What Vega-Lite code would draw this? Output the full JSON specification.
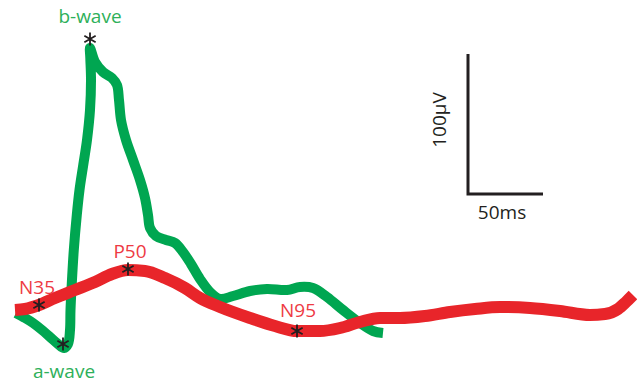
{
  "$schema": "https://vega.github.io/schema/vega-lite/v6.json",
  "width": 637,
  "height": 386,
  "autosize": {"type": "none"},
  "padding": 0,
  "background": "white",
  "config": {"view": {"stroke": null}},
  "datasets": {
    "green": [
      {"i": 1, "t": 0.67, "v": -2.14},
      {"i": 2, "t": 6.67, "v": -5.71},
      {"i": 3, "t": 12, "v": -9.29},
      {"i": 4, "t": 18, "v": -14.29},
      {"i": 5, "t": 23.33, "v": -19.29},
      {"i": 6, "t": 28.67, "v": -24.29},
      {"i": 7, "t": 32.67, "v": -27.14},
      {"i": 8, "t": 35.33, "v": -24.29},
      {"i": 9, "t": 36.67, "v": -14.29},
      {"i": 10, "t": 37, "v": 0},
      {"i": 11, "t": 37.8, "v": 17.86},
      {"i": 12, "t": 39.2, "v": 42.86},
      {"i": 13, "t": 41.2, "v": 67.86},
      {"i": 14, "t": 43, "v": 85.71},
      {"i": 15, "t": 45.5, "v": 103.57},
      {"i": 16, "t": 48, "v": 121.43},
      {"i": 17, "t": 50, "v": 142.86},
      {"i": 18, "t": 50.67, "v": 164.29},
      {"i": 19, "t": 50.2, "v": 180},
      {"i": 20, "t": 50, "v": 187.14},
      {"i": 21, "t": 53.33, "v": 177.14},
      {"i": 22, "t": 58.67, "v": 170},
      {"i": 23, "t": 64.67, "v": 165.71},
      {"i": 24, "t": 68, "v": 160.71},
      {"i": 25, "t": 69.33, "v": 150},
      {"i": 26, "t": 70.67, "v": 135.71},
      {"i": 27, "t": 74, "v": 121.43},
      {"i": 28, "t": 78.67, "v": 107.14},
      {"i": 29, "t": 83.33, "v": 92.86},
      {"i": 30, "t": 86.67, "v": 80},
      {"i": 31, "t": 88.67, "v": 67.86},
      {"i": 32, "t": 90, "v": 58.57},
      {"i": 33, "t": 94, "v": 52.86},
      {"i": 34, "t": 100.67, "v": 50},
      {"i": 35, "t": 106.67, "v": 47.86},
      {"i": 36, "t": 112, "v": 41.43},
      {"i": 37, "t": 117.33, "v": 32.86},
      {"i": 38, "t": 123.33, "v": 22.14},
      {"i": 39, "t": 130, "v": 12.86},
      {"i": 40, "t": 136.67, "v": 7.86},
      {"i": 41, "t": 145.33, "v": 10},
      {"i": 42, "t": 156.67, "v": 13.57},
      {"i": 43, "t": 168, "v": 15},
      {"i": 44, "t": 181.33, "v": 14.29},
      {"i": 45, "t": 190, "v": 16.43},
      {"i": 46, "t": 198.67, "v": 15.71},
      {"i": 47, "t": 208, "v": 9.29},
      {"i": 48, "t": 218.67, "v": 0},
      {"i": 49, "t": 230, "v": -9.29},
      {"i": 50, "t": 238.67, "v": -15},
      {"i": 51, "t": 245.33, "v": -16.43}
    ],
    "red": [
      {"t": 0, "v": 0},
      {"t": 6.67, "v": 0.71},
      {"t": 16, "v": 3.57},
      {"t": 26.67, "v": 8.57},
      {"t": 40, "v": 14.29},
      {"t": 53.33, "v": 20},
      {"t": 64.67, "v": 25.71},
      {"t": 75.33, "v": 28.57},
      {"t": 86.67, "v": 27.86},
      {"t": 100, "v": 22.86},
      {"t": 113.33, "v": 15.71},
      {"t": 123.33, "v": 8.57},
      {"t": 136.67, "v": 2.14},
      {"t": 156.67, "v": -5.71},
      {"t": 173.33, "v": -11.43},
      {"t": 188, "v": -15},
      {"t": 203.33, "v": -15},
      {"t": 216.67, "v": -12.86},
      {"t": 230, "v": -8.57},
      {"t": 243.33, "v": -5.71},
      {"t": 256.67, "v": -5.71},
      {"t": 273.33, "v": -4.29},
      {"t": 290, "v": -1.43},
      {"t": 306.67, "v": 0.71},
      {"t": 323.33, "v": 2.14},
      {"t": 343.33, "v": 1.43},
      {"t": 363.33, "v": -0.71},
      {"t": 383.33, "v": -3.57},
      {"t": 393.33, "v": -2.86},
      {"t": 402, "v": 0.71},
      {"t": 407.33, "v": 5.71},
      {"t": 412, "v": 10.71}
    ],
    "stars": [
      {"name": "b-wave", "t": 50, "v": 193.57},
      {"name": "a-wave", "t": 32, "v": -24.29},
      {"name": "N35", "t": 16, "v": 3.57},
      {"name": "P50", "t": 75.33, "v": 29.29},
      {"name": "N95", "t": 188, "v": -15}
    ],
    "labels": [
      {"label": "b-wave", "kind": "ERG", "t": 50, "v": 209.29},
      {"label": "a-wave", "kind": "ERG", "t": 32.67, "v": -44.29},
      {"label": "N35", "kind": "PERG", "t": 14.67, "v": 15.71},
      {"label": "P50", "kind": "PERG", "t": 76.67, "v": 41.43},
      {"label": "N95", "kind": "PERG", "t": 188.67, "v": -0.71}
    ],
    "bar": [
      {"i": 1, "t": 302, "v": 182.86},
      {"i": 2, "t": 302, "v": 82.86},
      {"i": 3, "t": 352, "v": 82.86}
    ],
    "barlabels": [
      {"label": "100µV", "angle": 270, "t": 283.33, "v": 135.71},
      {"label": "50ms", "angle": 0, "t": 324.67, "v": 69.29}
    ]
  },
  "encoding": {
    "x": {"field": "t", "type": "quantitative", "axis": null, "scale": {"domain": [-10, 414.667], "nice": false, "zero": false}},
    "y": {"field": "v", "type": "quantitative", "axis": null, "scale": {"domain": [-54.286, 221.429], "nice": false, "zero": false}}
  },
  "layer": [
    {
      "data": {"name": "green"},
      "mark": {"type": "line", "color": "#00a651", "strokeWidth": 10, "interpolate": "catmull-rom", "strokeJoin": "round", "strokeCap": "butt"},
      "encoding": {"order": {"field": "i", "type": "quantitative"}}
    },
    {
      "data": {"name": "red"},
      "mark": {"type": "line", "color": "#e8252a", "strokeWidth": 12, "interpolate": "monotone", "strokeCap": "butt"},
      "encoding": {}
    },
    {
      "data": {"name": "stars"},
      "mark": {"type": "point", "shape": "M0,-1L0,1M-0.866,-0.5L0.866,0.5M-0.866,0.5L0.866,-0.5", "filled": false, "stroke": "#231f20", "strokeWidth": 1.8, "size": 170, "opacity": 1},
      "encoding": {}
    },
    {
      "data": {"name": "labels"},
      "mark": {"type": "text", "font": "Open Sans", "fontSize": 19, "baseline": "middle", "align": "center"},
      "encoding": {
        "text": {"field": "label"},
        "color": {"field": "kind", "type": "nominal", "scale": {"domain": ["ERG", "PERG"], "range": ["#2eb05a", "#ee3a43"]}, "legend": null}
      }
    },
    {
      "data": {"name": "bar"},
      "mark": {"type": "line", "color": "#231f20", "strokeWidth": 3, "strokeJoin": "miter", "strokeCap": "butt"},
      "encoding": {"order": {"field": "i", "type": "quantitative"}}
    },
    {
      "data": {"name": "barlabels"},
      "mark": {"type": "text", "font": "Open Sans", "fontSize": 19, "baseline": "middle", "align": "center", "color": "#231f20"},
      "encoding": {
        "text": {"field": "label"},
        "angle": {"field": "angle", "type": "quantitative", "scale": null}
      }
    }
  ]
}
